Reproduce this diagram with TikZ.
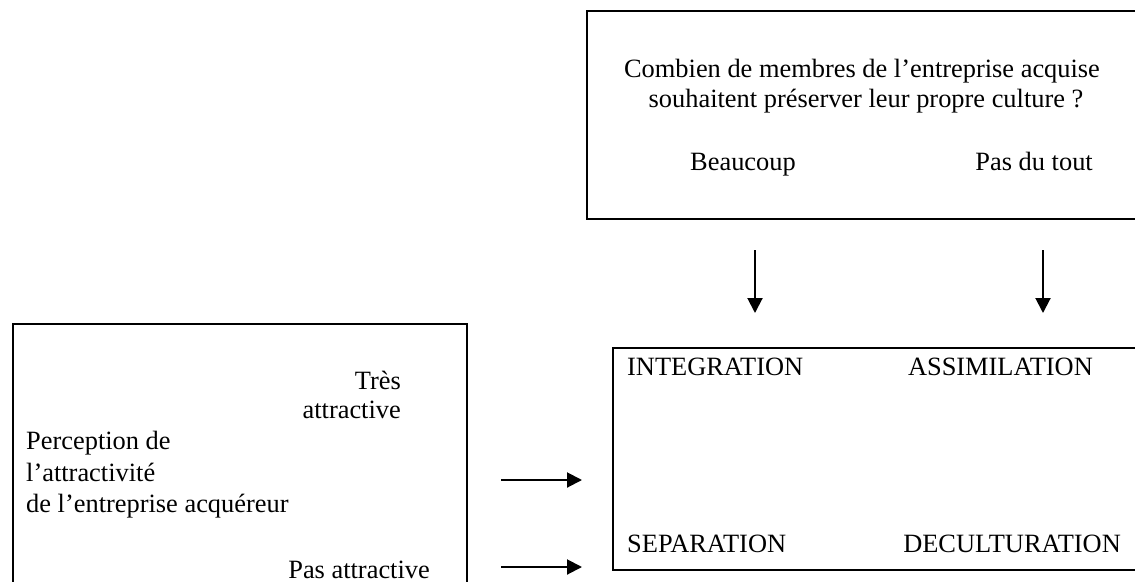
\documentclass[tikz,border=0pt]{standalone}
\usepackage{fontspec}
\setmainfont{Liberation Serif}
\usetikzlibrary{arrows.meta}
\begin{document}
\begin{tikzpicture}[x=1pt,y=-1pt,
  box/.style={draw=black,line width=2pt,inner sep=0pt,anchor=north west},
  lbl/.style={inner sep=0pt,font=\fontsize{26.4}{31}\selectfont},
  flow/.style={line width=2pt,-{Triangle[length=15pt,width=15pt]}}]
\useasboundingbox (0,0) rectangle (1135,581);
% question box (top right)
\node[box,minimum width=560pt,minimum height=208pt] (qbox) at (586,10) {};
\node[lbl,anchor=base] (q1) at (862,77) {Combien de membres de l’entreprise acquise};
\node[lbl,anchor=base] (q2) at (866,107) {souhaitent préserver leur propre culture ?};
\node[lbl,anchor=base west] (beau) at (690,170) {Beaucoup};
\node[lbl,anchor=base east] (pas) at (1093,170) {Pas du tout};
% perception box (left)
\node[box,minimum width=454pt,minimum height=270pt] (pbox) at (12,323) {};
\node[lbl,anchor=base east] (tres) at (401,389) {Très};
\node[lbl,anchor=base east] (attr) at (401,418) {attractive};
\node[lbl,anchor=base west] (perc) at (26,449) {Perception de};
\node[lbl,anchor=base west] (perc2) at (26,481) {l’attractivité};
\node[lbl,anchor=base west] (perc3) at (26,512) {de l’entreprise acquéreur};
\node[lbl,anchor=base east] (pasattr) at (430,578) {Pas attractive};
% strategy box (bottom right)
\node[box,minimum width=540pt,minimum height=222pt] (sbox) at (612,347) {};
\node[lbl,anchor=base west] (integ) at (627,375) {INTEGRATION};
\node[lbl,anchor=base east] (assim) at (1093,375) {ASSIMILATION};
\node[lbl,anchor=base west] (separ) at (627,552) {SEPARATION};
\node[lbl,anchor=base east] (decul) at (1121,552) {DECULTURATION};
% arrow ends
\coordinate (d1s) at (755,250);
\coordinate (d1e) at (755,313);
\coordinate (d2s) at (1043,250);
\coordinate (d2e) at (1043,313);
\coordinate (h1s) at (501,480);
\coordinate (h1e) at (582,480);
\coordinate (h2s) at (501,567);
\coordinate (h2e) at (582,567);
\draw[flow] (d1s) -- (d1e);
\draw[flow] (d2s) -- (d2e);
\draw[flow] (h1s) -- (h1e);
\draw[flow] (h2s) -- (h2e);
\end{tikzpicture}
\end{document}
